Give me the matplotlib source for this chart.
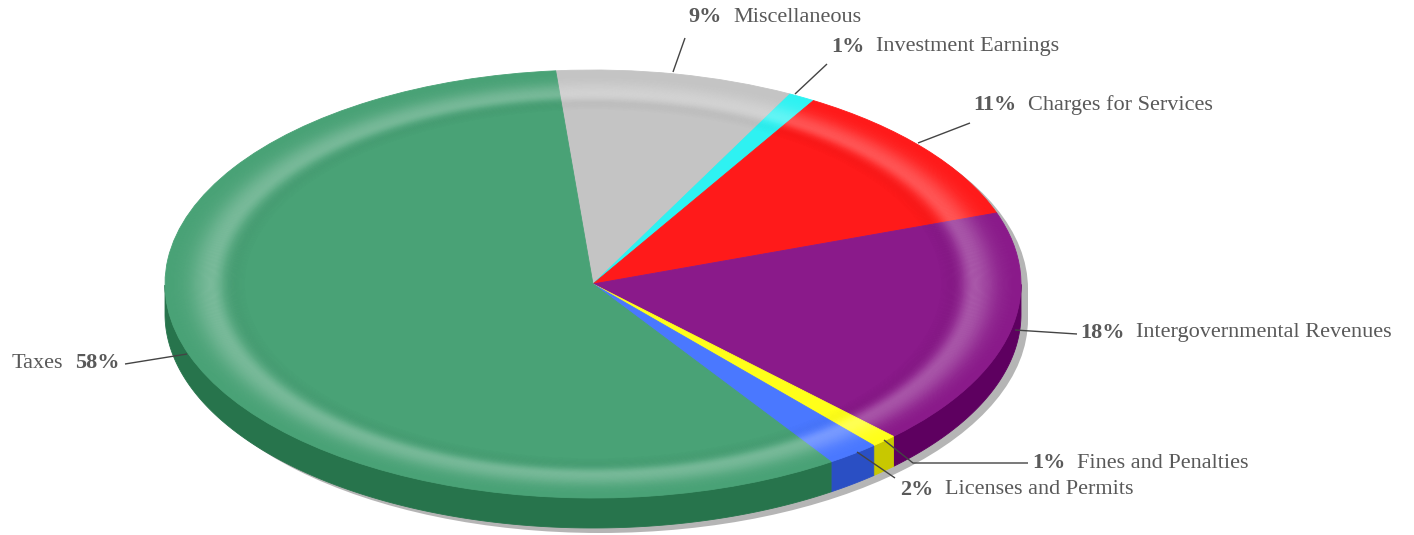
import numpy as np
import matplotlib
matplotlib.use('Agg')
import matplotlib.pyplot as plt
from matplotlib.patches import Wedge, Polygon, Ellipse, Rectangle
from matplotlib.transforms import Affine2D

# ---------------- data ----------------
categories = ['Miscellaneous', 'Investment Earnings', 'Charges for Services',
              'Intergovernmental Revenues', 'Fines and Penalties',
              'Licenses and Permits', 'Taxes']
values = [9, 1, 11, 18, 1, 2, 58]

# ---------------- styles ----------------
top_colors = ['#c4c4c4', '#2ef2f2', '#ff1a1a', '#8a1a8a', '#ffff1a', '#4a78ff', '#49a276']
side_colors = ['#9a9a9a', '#20b0b0', '#c01010', '#5e0060', '#c8c800', '#2a4fc4', '#27744c']
text_color = '#595959'

W, H = 1414, 535
fig = plt.figure(figsize=(W / 100, H / 100), dpi=100)
ax = fig.add_axes([0, 0, 1, 1])
ax.set_xlim(0, W)
ax.set_ylim(H, 0)
ax.axis('off')

cx, cy, rx, ry, depth = 593, 284, 428, 214, 30
start = 95
fr = np.array(values, dtype=float) / sum(values)
ends = start - 360 * np.cumsum(fr)          # clockwise layout
begins = ends + 360 * fr

ellT = Affine2D().scale(rx, -ry).translate(cx, cy) + ax.transData

# shadow
sdx, sdy = 7, 5
shadow = '#b5b5b5'
ax.add_patch(Ellipse((cx + sdx, cy + sdy), 2 * rx, 2 * ry, color=shadow, lw=0, zorder=1))
ax.add_patch(Ellipse((cx + sdx, cy + sdy + depth), 2 * rx, 2 * ry, color=shadow, lw=0, zorder=1))
ax.add_patch(Rectangle((cx + sdx - rx, cy + sdy), 2 * rx, depth, color=shadow, lw=0, zorder=1))

# side walls (front half only)
for a, b, col in zip(ends, begins, side_colors):
    th = np.radians(np.linspace(a, b, 400))
    m = np.sin(th) <= 0
    if m.sum() < 2:
        continue
    th = th[m]
    xt = cx + rx * np.cos(th)
    yt = cy - ry * np.sin(th)
    pts = np.vstack([np.column_stack([xt, yt]),
                     np.column_stack([xt[::-1], yt[::-1] + depth])])
    ax.add_patch(Polygon(pts, closed=True, facecolor=col, edgecolor=col, lw=0.6, zorder=2))

# top faces
for a, b, col in zip(ends, begins, top_colors):
    ax.add_patch(Wedge((0, 0), 1, a, b, transform=ellT, facecolor=col,
                       edgecolor=col, lw=0.6, zorder=3))

# glossy ring
rs = np.linspace(0.76, 1.0, 97)
dr = rs[1] - rs[0]
for r in rs[:-1]:
    rc = r + dr / 2
    sig = 0.05 if rc > 0.89 else 0.028
    aw = 0.27 * np.exp(-((rc - 0.89) / sig) ** 2)
    ab = 0.025 * np.exp(-((rc - 0.84) / 0.02) ** 2)
    if aw > 0.004:
        ax.add_patch(Wedge((0, 0), r + dr, 0, 360, width=dr, transform=ellT,
                           facecolor='white', alpha=aw, lw=0, zorder=4))
    if ab > 0.004:
        ax.add_patch(Wedge((0, 0), r + dr, 0, 360, width=dr, transform=ellT,
                           facecolor='black', alpha=ab, lw=0, zorder=4))

# leader lines and labels (layout)
leaders = {
    'Miscellaneous': [(673, 72), (685, 38)],
    'Investment Earnings': [(795, 94), (827, 64)],
    'Charges for Services': [(918, 143), (970, 123)],
    'Intergovernmental Revenues': [(1015, 330), (1077, 334)],
    'Fines and Penalties': [(884, 440), (913, 463), (1028, 463)],
    'Licenses and Permits': [(857, 452), (895, 478)],
    'Taxes': [(125, 364), (187, 354)],
}
label_pos = {
    'Miscellaneous': (688, 17),
    'Investment Earnings': (831, 47),
    'Charges for Services': (973, 105),
    'Intergovernmental Revenues': (1080, 333),
    'Fines and Penalties': (1032, 463),
    'Licenses and Permits': (900, 490),
    'Taxes': (12, 363),
}
for cat, pts in leaders.items():
    xs, ys = zip(*pts)
    ax.plot(xs, ys, color='#444444', lw=1.0, zorder=5, solid_capstyle='butt')

fs = 16
fam = ['Liberation Serif', 'DejaVu Serif']
renderer = fig.canvas.get_renderer()
gap = 12
for cat, v in zip(categories, values):
    x, y = label_pos[cat]
    pct = f'{v}%'
    if cat == 'Taxes':
        first, fw = cat, 'normal'
        second, sw = pct, 'bold'
    else:
        first, fw = pct, 'bold'
        second, sw = cat, 'normal'
    t1 = ax.text(x, y, first, fontsize=fs, fontweight=fw, family=fam,
                 color=text_color, ha='left', va='center', zorder=6)
    bb = t1.get_window_extent(renderer)
    ax.text(x + bb.width + gap, y, second, fontsize=fs, fontweight=sw, family=fam,
            color=text_color, ha='left', va='center', zorder=6)

fig.savefig('out.png', dpi=100, facecolor='white')
